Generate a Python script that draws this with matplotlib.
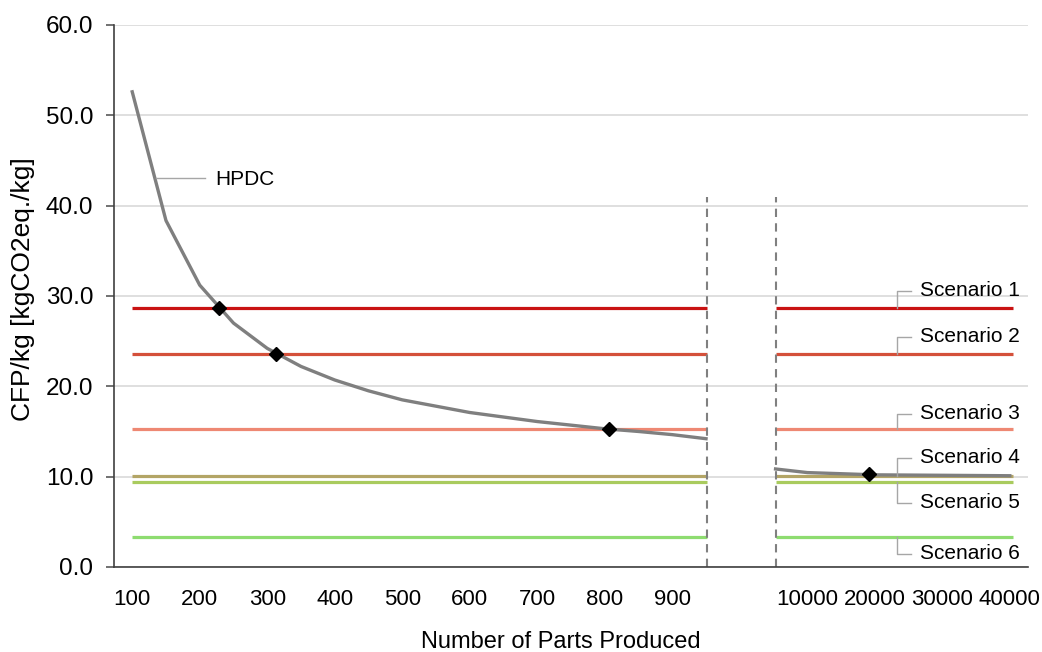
import numpy as np
import matplotlib
matplotlib.use("Agg")
import matplotlib.pyplot as plt

plt.rcParams['font.family'] = ['Liberation Sans', 'DejaVu Sans']

# HPDC curve
hpdc_low_parts = [100, 150, 200, 250, 300, 350, 400, 450, 500, 550, 600, 650,
                  700, 750, 800, 850, 900, 950]
hpdc_low_cfp = [52.6, 38.35, 31.2, 27.0, 24.2, 22.2, 20.7, 19.5, 18.5, 17.8,
                17.1, 16.6, 16.1, 15.7, 15.3, 15.0, 14.65, 14.2]
hpdc_high_parts = [5300, 10000, 20000, 30000, 40000]
hpdc_high_cfp = [10.85, 10.45, 10.2, 10.15, 10.1]

# break-even points
cross_parts = [229, 313, 807, 19200]
cross_cfp = [28.7, 23.6, 15.25, 10.27]

scenarios = ['Scenario 1', 'Scenario 2', 'Scenario 3', 'Scenario 4',
             'Scenario 5', 'Scenario 6']
scenario_cfp = [28.7, 23.55, 15.25, 10.1, 9.45, 3.36]
scenario_colors = ['#C91212', '#D4503A', '#EE8873', '#B3A566', '#A9CB5E', '#8EDC70']

tick_parts = [100, 200, 300, 400, 500, 600, 700, 800, 900,
              10000, 20000, 30000, 40000]
tick_labels = [str(t) for t in tick_parts]


def pos(v):
    # broken axis: 100..900 linear, then 10000..40000 squeezed in
    v = np.asarray(v, dtype=float)
    return np.where(v < 1000, (v - 100) / 100.0, 9 + v / 10000.0)


break_left = 8.52
break_right = 9.53
right_end = 13.04

fig = plt.figure(figsize=(10.42, 6.52), dpi=100)
ax = fig.add_axes([0.1094, 0.1304, 0.8772, 0.8313])

ax.set_xlim(-0.27, 13.27)
ax.set_ylim(0, 60)

ax.set_yticks(np.arange(0, 61, 10))
ax.set_yticklabels(['%.1f' % t for t in np.arange(0, 61, 10)], fontsize=17.5)
ax.yaxis.grid(True, color='#D9D9D9', lw=1.2)
ax.set_axisbelow(True)

ax.set_xticks(pos(tick_parts))
ax.set_xticklabels(tick_labels, fontsize=16)
ax.tick_params(axis='x', length=0, pad=16)
ax.tick_params(axis='y', length=6, width=1.2, color='#595959', pad=9)

for s in ['top', 'right']:
    ax.spines[s].set_visible(False)
ax.spines['left'].set_color('#404040')
ax.spines['bottom'].set_color('#404040')
ax.spines['left'].set_linewidth(1.2)
ax.spines['bottom'].set_linewidth(1.2)

# scenario lines on both sides of the break
for name, val, col in zip(scenarios, scenario_cfp, scenario_colors):
    ax.plot([0, break_left], [val, val], color=col, lw=2.3, solid_capstyle='butt')
    ax.plot([break_right, right_end], [val, val], color=col, lw=2.3, solid_capstyle='butt')

# HPDC curve
ax.plot(pos(hpdc_low_parts), hpdc_low_cfp, color='#7F7F7F', lw=2.4)
ax.plot(pos(hpdc_high_parts), hpdc_high_cfp, color='#7F7F7F', lw=2.4)

ax.plot(pos(cross_parts), cross_cfp, 'D', color='black', markersize=7.5, zorder=5)

# break markers
for xb in [break_left, break_right]:
    ax.plot([xb, xb], [0, 41], color='#808080', lw=1.5, ls=(0, (4, 3)))

# labels with leader lines
lead_x = 11.33
lead_end = 11.54
text_x = 11.67
label_y = [30.56, 25.5, 16.94, 12.07, 7.12, 1.44]
for name, val, ly in zip(scenarios, scenario_cfp, label_y):
    ax.plot([lead_x, lead_x, lead_end], [val, ly, ly], color='#A6A6A6', lw=1)
    ax.text(text_x, ly, name, fontsize=15, va='center', ha='left')

ax.plot([0.356, 1.08], [43.1, 43.1], color='#A6A6A6', lw=1)
ax.text(1.23, 42.9, 'HPDC', fontsize=15, va='center', ha='left')

ax.set_xlabel('Number of Parts Produced', fontsize=17, va='top')
ax.xaxis.set_label_coords(0.489, -0.118)
ax.set_ylabel('CFP/kg [kgCO2eq./kg]', fontsize=19)
ax.yaxis.set_label_coords(-0.086, 0.513)

fig.savefig('out.png', dpi=100)
